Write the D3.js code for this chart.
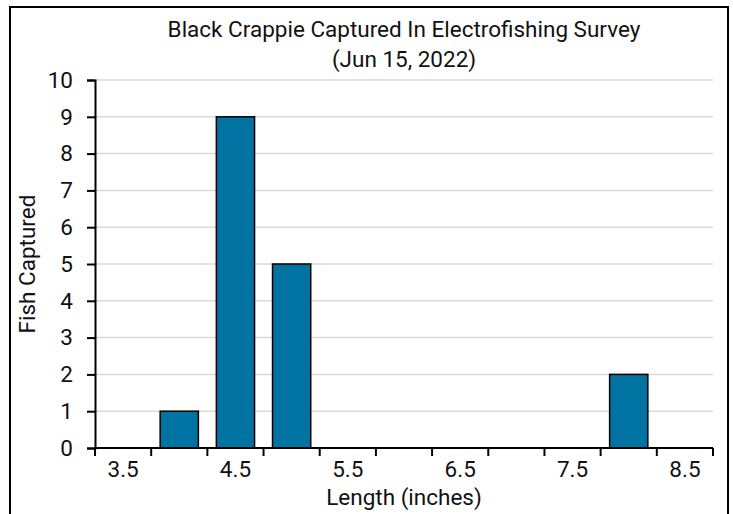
<!DOCTYPE html>
<html><head><meta charset="utf-8">
<script src="https://cdn.jsdelivr.net/npm/d3@7"></script>
<style>
html,body{margin:0;padding:0;background:#fff;}
svg text{font-family:"Roboto",sans-serif;fill:#111;font-size:22.5px;}
</style></head>
<body><svg id="c" width="733" height="514"></svg>
<script>
const categories = ["3.5","4","4.5","5","5.5","6","6.5","7","7.5","8","8.5"];
const fishCaptured = [0,1,9,5,0,0,0,0,0,2,0];
const xTickLabels = ["3.5","4.5","5.5","6.5","7.5","8.5"];
const yTicks = [0,1,2,3,4,5,6,7,8,9,10];
const titleLines = ["Black Crappie Captured In Electrofishing Survey","(Jun 15, 2022)"];
const xTitle = "Length (inches)";
const yTitle = "Fish Captured";

const svg = d3.select("#c");
const W = 733, H = 514;
const m = {left:95, right:20, top:80, bottom:66};
const pw = W - m.left - m.right, ph = H - m.top - m.bottom;

svg.append("rect").attr("x",10).attr("y",7).attr("width",718).attr("height",520)
  .attr("fill","none").attr("stroke","#000").attr("stroke-width",2);

const x = d3.scaleBand().domain(categories).range([m.left, m.left+pw]).paddingInner(0).paddingOuter(0);
const y = d3.scaleLinear().domain([0,10]).range([m.top+ph, m.top]);

// gridlines
svg.append("g").selectAll("line").data(yTicks.filter(d=>d>0)).join("line")
  .attr("x1",m.left).attr("x2",m.left+pw).attr("y1",d=>y(d)).attr("y2",d=>y(d))
  .attr("stroke","#d9d9d9").attr("stroke-width",1.5);

// bars
const bw = x.bandwidth()*0.68;
svg.append("g").selectAll("rect").data(categories.map((c,i)=>({c,v:fishCaptured[i]})).filter(d=>d.v>0)).join("rect")
  .attr("x",d=>x(d.c)+(x.bandwidth()-bw)/2).attr("width",bw)
  .attr("y",d=>y(d.v)).attr("height",d=>y(0)-y(d.v))
  .attr("fill","#0173a3").attr("stroke","#000").attr("stroke-width",1.5);

// y axis
const ya = svg.append("g").attr("transform",`translate(${m.left},0)`)
  .call(d3.axisLeft(y).tickValues(yTicks).tickSize(8).tickPadding(14).tickFormat(d3.format("d")));
ya.select(".domain").attr("stroke","#000").attr("stroke-width",2);
ya.selectAll(".tick line").attr("stroke","#000").attr("stroke-width",2);

// x axis: labels at band centers, ticks at band edges
const xa = svg.append("g").attr("transform",`translate(0,${m.top+ph})`)
  .call(d3.axisBottom(x).tickValues(xTickLabels).tickSize(0).tickPadding(13));
xa.select(".domain").remove();
const edges = categories.map(c=>x(c)).concat([x(categories[categories.length-1])+x.bandwidth()]);
svg.append("line").attr("x1",m.left).attr("x2",m.left+pw).attr("y1",y(0)).attr("y2",y(0))
  .attr("stroke","#000").attr("stroke-width",2);
svg.append("g").selectAll("line").data(edges).join("line")
  .attr("x1",d=>d).attr("x2",d=>d).attr("y1",y(0)).attr("y2",y(0)+8)
  .attr("stroke","#000").attr("stroke-width",2);

// titles
svg.append("g").selectAll("text").data(titleLines).join("text")
  .attr("x",m.left+pw/2).attr("y",(d,i)=>37+i*30).attr("text-anchor","middle").text(d=>d);
svg.append("text").attr("x",m.left+pw/2).attr("y",505).attr("text-anchor","middle").text(xTitle);
svg.append("text").attr("transform",`translate(35,${m.top+ph/2}) rotate(-90)`)
  .attr("text-anchor","middle").text(yTitle);
</script></body></html>
